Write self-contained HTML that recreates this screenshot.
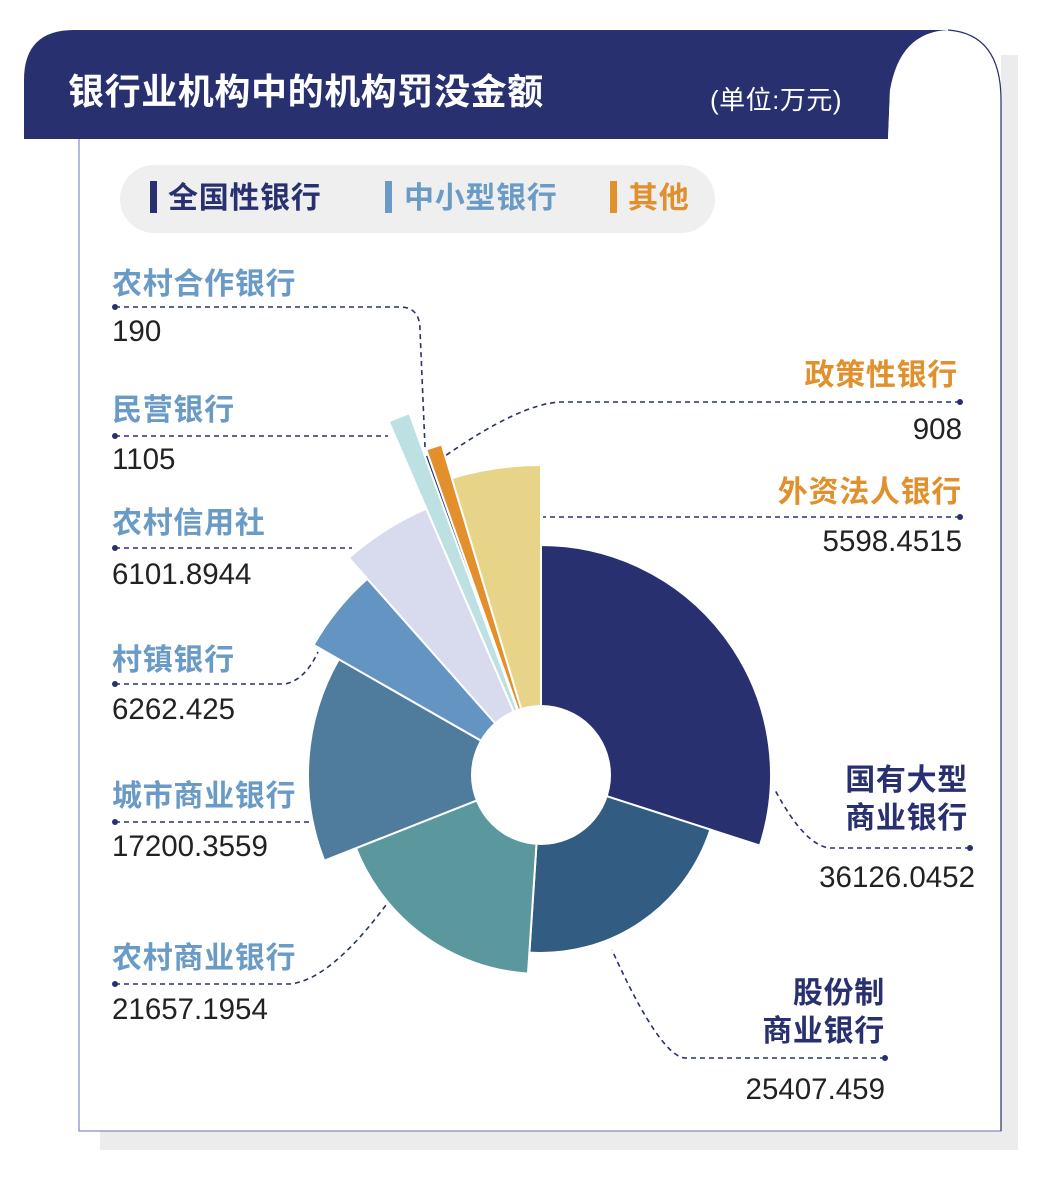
<!DOCTYPE html>
<html><head><meta charset="utf-8"><style>
html,body{margin:0;padding:0;background:#fff;}
svg{display:block;font-family:"Liberation Sans","Noto Sans CJK SC",sans-serif;}
.lb{font-size:30px;font-weight:bold;fill:#6a9bc6;letter-spacing:0.7px;}
.or{font-size:30px;font-weight:bold;fill:#e0912e;letter-spacing:0.7px;}
.nv{font-size:30px;font-weight:bold;fill:#283070;letter-spacing:0.7px;}
.v{font-size:29.5px;fill:#222;}
.d{fill:none;stroke:#283070;stroke-width:1.6;stroke-dasharray:5 4;}
</style></head><body>
<svg id="s" width="1039" height="1195" viewBox="0 0 1039 1195">
<rect x="1001" y="55" width="17" height="1095" fill="#ececec"/>
<rect x="100" y="1131" width="918" height="19" fill="#ececec"/>
<rect x="79" y="120" width="922" height="1011" fill="#fff" stroke="#6870b8" stroke-width="1"/>
<path d="M24 139 L24 80 Q24 30 74 30 L948 30 Q905 40 890 90 L888 139 Z" fill="#283070"/>
<path d="M888 139 L890 90 Q900 32 948 30 Q1001 34 1001 100 L1001 1130 L888 1130 Z" fill="#fff"/>
<path d="M948 30 Q1001 34 1001 100 L1001 1131" fill="none" stroke="#283070" stroke-width="1.2"/>
<text x="68" y="104" font-size="36" font-weight="bold" fill="#fff" letter-spacing="0.6">银行业机构中的机构罚没金额</text>
<text x="710" y="109" font-size="26" fill="#fff" letter-spacing="0.5">(单位:万元)</text>
<rect x="120" y="165" width="595" height="68" rx="34" fill="#efefef"/>
<rect x="150" y="181" width="7" height="32" fill="#283070"/>
<text x="168" y="208" class="nv">全国性银行</text>
<rect x="385" y="181" width="7" height="32" fill="#6a9bc6"/>
<text x="404" y="208" class="lb">中小型银行</text>
<rect x="610" y="181" width="7" height="32" fill="#e0912e"/>
<text x="628" y="208" class="or">其他</text>
<g id="pie"></g>
<circle cx="541" cy="775" r="70" fill="#fff"/>
<text x="112" y="294" class="lb">农村合作银行</text><text x="112" y="341" class="v">190</text>
<path class="d" d="M115 307 L400 307 Q420 307 420 330 L425 447"/>
<text x="112" y="420" class="lb">民营银行</text><text x="112" y="469" class="v">1105</text>
<path class="d" d="M115 436 L388 436"/>
<text x="112" y="533" class="lb">农村信用社</text><text x="112" y="584" class="v">6101.8944</text>
<path class="d" d="M115 548 L352 548"/>
<text x="112" y="670" class="lb">村镇银行</text><text x="112" y="719" class="v">6262.425</text>
<path class="d" d="M115 684 L285 684 Q305 680 318 652"/>
<text x="112" y="806" class="lb">城市商业银行</text><text x="112" y="856" class="v">17200.3559</text>
<path class="d" d="M115 822 L312 822"/>
<text x="112" y="968" class="lb">农村商业银行</text><text x="112" y="1019" class="v">21657.1954</text>
<path class="d" d="M115 984 L290 984 Q330 980 386 905"/>
<text x="958" y="385" class="or" text-anchor="end">政策性银行</text><text x="962" y="439" class="v" text-anchor="end">908</text>
<path class="d" d="M960 402 L560 402 Q520 404 445 456"/>
<text x="962" y="502" class="or" text-anchor="end">外资法人银行</text><text x="962" y="551" class="v" text-anchor="end">5598.4515</text>
<path class="d" d="M960 517 L543 517"/>
<text x="968" y="790" class="nv" text-anchor="end">国有大型</text><text x="968" y="828" class="nv" text-anchor="end">商业银行</text>
<text x="975" y="887" class="v" text-anchor="end">36126.0452</text>
<path class="d" d="M970 848 L830 848 Q805 846 775 790"/>
<text x="885" y="1003" class="nv" text-anchor="end">股份制</text><text x="885" y="1041" class="nv" text-anchor="end">商业银行</text>
<text x="885" y="1099" class="v" text-anchor="end">25407.459</text>
<path class="d" d="M885 1058 L685 1058 Q660 1056 612 950"/>
<g fill="#283070">
<circle cx="115" cy="307" r="3"/><circle cx="115" cy="436" r="3"/><circle cx="115" cy="548" r="3"/>
<circle cx="115" cy="684" r="3"/><circle cx="115" cy="822" r="3"/><circle cx="115" cy="984" r="3"/>
<circle cx="960" cy="402" r="3"/><circle cx="960" cy="517" r="3"/><circle cx="970" cy="848" r="3"/><circle cx="885" cy="1058" r="3"/>
</g>
</svg>
<script>
var d=[[36126,230,"#283070"],[25407,178,"#335c83"],[21657,199,"#5b989e"],[17200,233,"#4f7b9d"],[6262,262,"#6494c1"],[6102,290,"#d8dbee"],[1105,385,"#bde0e2"],[190,340,"#283070"],[908,345,"#e28f2c"],[5598,310,"#e8d488"]];
var T=0;d.forEach(function(e){T+=e[0]});
var cx=541,cy=775,a=0,h="";
function p(r,an){var t=an*Math.PI/180;return (cx+r*Math.sin(t)).toFixed(1)+" "+(cy-r*Math.cos(t)).toFixed(1);}
d.forEach(function(e){var b=a+e[0]/T*360,r=e[1],lg=(b-a)>180?1:0;
h+='<path d="M'+p(0,a)+' L'+p(r,a)+' A'+r+' '+r+' 0 '+lg+' 1 '+p(r,b)+' Z" fill="'+e[2]+'" stroke="#fff" stroke-width="2"/>';a=b;});
document.getElementById("pie").innerHTML=h;
</script>
</body></html>
